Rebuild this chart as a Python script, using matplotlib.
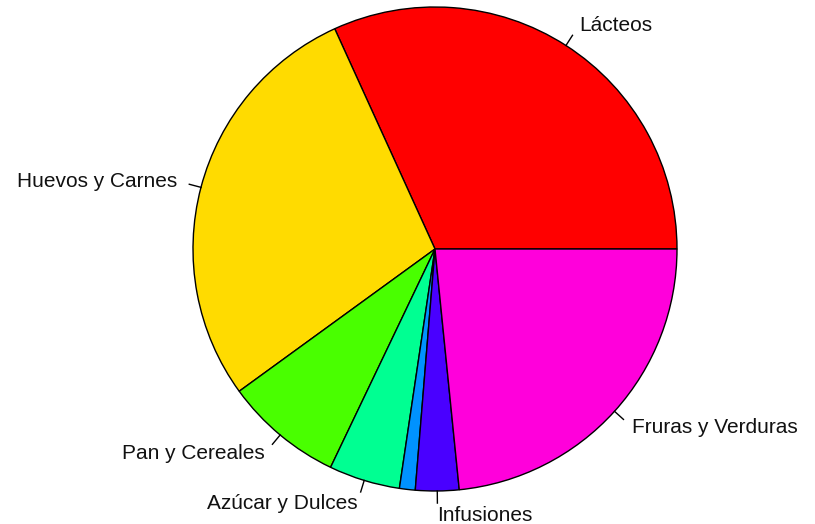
import numpy as np
import matplotlib.pyplot as plt

labels = ['Lácteos', 'Huevos y Carnes', 'Pan y Cereales', 'Azúcar y Dulces',
          '', 'Infusiones', 'Fruras y Verduras']
values = [31.8, 28.2, 7.9, 4.75, 1.05, 2.9, 23.4]
colors = ['#FF0000', '#FFDB00', '#49FF00', '#00FF92', '#0092FF', '#4900FF', '#FF00DB']

plt.rcParams['font.family'] = ['Liberation Sans', 'DejaVu Sans']

fig = plt.figure(figsize=[8.15, 5.24], dpi=100)
ax = fig.add_axes([0, 0, 1, 1])
cx, cy, r = 435, 524 - 249, 242

wedges, _ = ax.pie(values, colors=colors, startangle=0,
                   counterclock=True, center=(cx, cy), radius=r, frame=True,
                   wedgeprops={'edgecolor': 'black', 'linewidth': 1.0})

# ticks from the rim to 1.05 * radius and labels at 1.1 * radius, like R's pie()
for w, lab in zip(wedges, labels):
    if not lab:
        continue
    a = np.deg2rad((w.theta1 + w.theta2) / 2)
    c, s = np.cos(a), np.sin(a)
    ax.plot([cx + r * c, cx + 1.05 * r * c], [cy + r * s, cy + 1.05 * r * s],
            color='black', lw=1)
    ax.text(cx + 1.1 * r * c, cy + 1.1 * r * s, lab, fontsize=15, color='#111111',
            ha='left' if c > 0 else 'right', va='center')

ax.set_xlim(0, 815)
ax.set_ylim(0, 524)
ax.set_aspect('equal')
ax.axis('off')
fig.savefig('out.png', dpi=100)
